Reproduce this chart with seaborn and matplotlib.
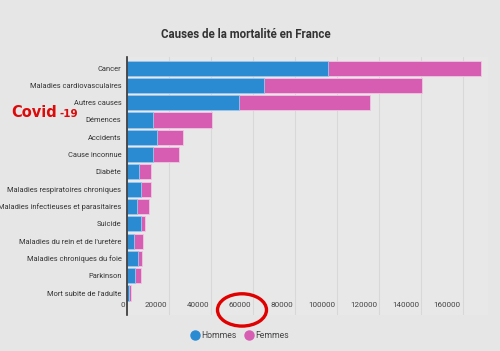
import numpy as np
import pandas as pd
import seaborn as sns
import matplotlib.pyplot as plt
import matplotlib.transforms as mtransforms
from matplotlib.patches import Ellipse
from matplotlib.lines import Line2D

# Data
# =====================================================================
causes = ['Cancer', 'Maladies cardiovasculaires', 'Autres causes', 'Démences',
          'Accidents', 'Cause inconnue', 'Diabète', 'Maladies respiratoires chroniques',
          'Maladies infectieuses et parasitaires', 'Suicide',
          "Maladies du rein et de l'uretère", 'Maladies chroniques du foie',
          'Parkinson', "Mort subite de l'adulte"]
hommes = [95700, 65200, 53300, 12400, 14300, 12400, 5700, 6700, 4800, 6700, 3300, 5200, 3800, 1000]
femmes = [72900, 75300, 62400, 28100, 12400, 12400, 5700, 4700, 5700, 1900, 4300, 1900, 2900, 900]
xticks = [0, 20000, 40000, 60000, 80000, 100000, 120000, 140000, 160000]

df = pd.DataFrame({'cause': causes, 'Hommes': hommes, 'Femmes': femmes})
df['total'] = df['Hommes'] + df['Femmes']

# Data Visualization
# =====================================================================
bg = '#e6e6e6'
blue = '#2b8bd2'
pink = '#d75db3'

sns.set_theme(style='white')
plt.rcParams['font.family'] = ['Roboto', 'DejaVu Sans']

fig = plt.figure(figsize=(5, 3.51), dpi=100, facecolor=bg)
ax = fig.add_axes([0.254, 0.1026, 0.722, 0.735])
ax.set_facecolor('#e8e8e8')

# Stacked bars: total first (pink), then men (blue) on top
sns.barplot(data=df, x='total', y='cause', orient='h', color=pink, width=0.87,
            edgecolor='#f2c6e4', linewidth=0.6, saturation=1, ax=ax)
sns.barplot(data=df, x='Hommes', y='cause', orient='h', color=blue, width=0.87,
            edgecolor='#9cc9ec', linewidth=0.6, saturation=1, ax=ax)

ax.set_xlim(0, 172000)
ax.set_ylim(14.27, -0.64)
ax.set_xlabel('')
ax.set_ylabel('')

# Grid and axis
ax.set_xticks(xticks)
ax.set_xticklabels([str(t) for t in xticks], ha='right')
ax.grid(axis='x', color='#d8d8d8', linewidth=0.8)
ax.set_axisbelow(True)
for s in ['top', 'right', 'bottom']:
    ax.spines[s].set_visible(False)
ax.spines['left'].set_color('#333333')
ax.spines['left'].set_linewidth(1.2)
ax.tick_params(axis='x', length=0, pad=-9, labelsize=5.8, labelcolor='#444444')
ax.tick_params(axis='y', length=0, pad=4, labelsize=5.4, labelcolor='#333333')
shift = mtransforms.ScaledTranslation(-2 / 100, 0, fig.dpi_scale_trans)
for lab in ax.get_xticklabels():
    lab.set_transform(lab.get_transform() + shift)

# Title
fig.text(0.492, 0.903, 'Causes de la mortalité en France', ha='center', va='center',
         fontsize=8.3, fontweight='bold', color='#333333')

# Covid-19 annotation
fig.text(0.022, 0.68, 'Covid', ha='left', va='center', fontsize=10.5,
         fontweight='bold', color='#dd0a0a', family='DejaVu Sans')
fig.text(0.118, 0.674, '-19', ha='left', va='center', fontsize=7.5,
         fontweight='bold', color='#dd0a0a', family='DejaVu Sans')

# Red circle around 60000
fig.patches.append(Ellipse((0.484, 0.117), 0.098, 0.092, transform=fig.transFigure,
                           fill=False, edgecolor='#e00000', linewidth=2.4))

# Legend
handles = [Line2D([0], [0], marker='o', color='none', markerfacecolor=blue, markeredgecolor=blue,
                  markersize=6.5, label='Hommes'),
           Line2D([0], [0], marker='o', color='none', markerfacecolor=pink, markeredgecolor=pink,
                  markersize=6.5, label='Femmes')]
leg = fig.legend(handles=handles, loc='center', bbox_to_anchor=(0.48, 0.043), ncol=2,
                 frameon=False, fontsize=6.2, handletextpad=0.2, columnspacing=1.0,
                 handlelength=1.0)
for t in leg.get_texts():
    t.set_color('#444444')

plt.savefig('out.png', dpi=100, facecolor=bg)
